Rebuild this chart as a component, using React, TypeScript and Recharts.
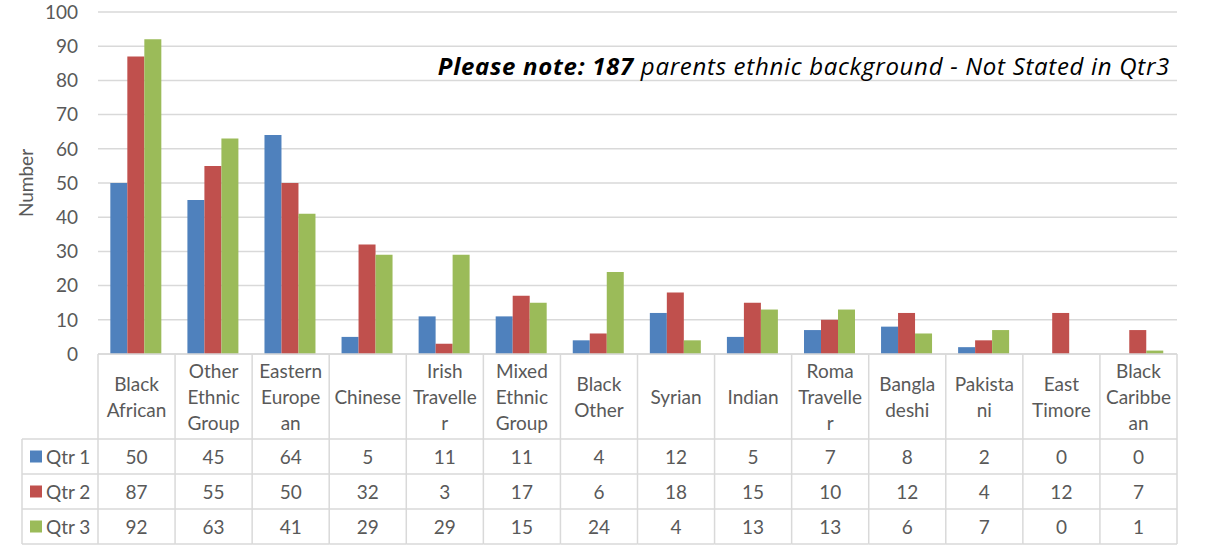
import React from "react";
import { Bar, BarChart, CartesianGrid, XAxis, YAxis } from "recharts";

const categories = [
  "Black African",
  "Other Ethnic Group",
  "Eastern European",
  "Chinese",
  "Irish Traveller",
  "Mixed Ethnic Group",
  "Black Other",
  "Syrian",
  "Indian",
  "Roma Traveller",
  "Bangladeshi",
  "Pakistani",
  "East Timore",
  "Black Caribbean"
];

// how Excel wrapped each label in the data table header
const categoryLines = [
  ["Black", "African"],
  ["Other", "Ethnic", "Group"],
  ["Eastern", "Europe", "an"],
  ["Chinese"],
  ["Irish", "Travelle", "r"],
  ["Mixed", "Ethnic", "Group"],
  ["Black", "Other"],
  ["Syrian"],
  ["Indian"],
  ["Roma", "Travelle", "r"],
  ["Bangla", "deshi"],
  ["Pakista", "ni"],
  ["East", "Timore"],
  ["Black", "Caribbe", "an"]
];

const qtr1 = [50, 45, 64, 5, 11, 11, 4, 12, 5, 7, 8, 2, 0, 0];
const qtr2 = [87, 55, 50, 32, 3, 17, 6, 18, 15, 10, 12, 4, 12, 7];
const qtr3 = [92, 63, 41, 29, 29, 15, 24, 4, 13, 13, 6, 7, 0, 1];

const yTicks = [0, 10, 20, 30, 40, 50, 60, 70, 80, 90, 100];

const series = [
  { key: "q1", name: "Qtr 1", color: "#4f81bd", values: qtr1 },
  { key: "q2", name: "Qtr 2", color: "#c0504d", values: qtr2 },
  { key: "q3", name: "Qtr 3", color: "#9bbb59", values: qtr3 }
];

const data = categories.map((name, i) => ({
  name,
  q1: qtr1[i],
  q2: qtr2[i],
  q3: qtr3[i]
}));

const W = 1212;
const H = 548;
const MARGIN = { top: 12, right: 35, bottom: 0, left: 0 };
const Y_AXIS_W = 98;
const X_AXIS_H = 194;
const BAND = (W - MARGIN.left - MARGIN.right - Y_AXIS_W) / categories.length;

const FONT = "Lato, 'Open Sans', sans-serif";
const FS = 19;
const TEXT = "#595959";
const LINE = "#d9d9d9";
const HEADER_H = 85;
const ROW_H = 35;
const LEGEND_W = 76;

const TableTick = (props: any) => {
  const { x, y, payload } = props;
  const i = payload.index;
  const left = x - BAND / 2;
  const right = x + BAND / 2;
  const bottom = y + HEADER_H + ROW_H * series.length;
  const lines = categoryLines[i] || [payload.value];
  const lineH = 26;
  const midY = y + HEADER_H / 2;
  const isLast = i === categories.length - 1;

  return (
    <g fontFamily={FONT} fontSize={FS} fill={TEXT}>
      <line x1={left} y1={y} x2={left} y2={bottom} stroke={LINE} strokeWidth={1.5} />
      {isLast && <line x1={right} y1={y} x2={right} y2={bottom} stroke={LINE} strokeWidth={1.5} />}
      {series.map((_, r) => (
        <line
          key={r}
          x1={left}
          x2={right}
          y1={y + HEADER_H + r * ROW_H}
          y2={y + HEADER_H + r * ROW_H}
          stroke={LINE}
          strokeWidth={1.5}
        />
      ))}
      <line x1={left} x2={right} y1={bottom} y2={bottom} stroke={LINE} strokeWidth={1.5} />
      {lines.map((t, k) => (
        <text
          key={k}
          x={x}
          y={midY + (k - (lines.length - 1) / 2) * lineH}
          textAnchor="middle"
          dominantBaseline="central"
        >
          {t}
        </text>
      ))}
      {series.map((s, r) => (
        <text
          key={s.key}
          x={x}
          y={y + HEADER_H + r * ROW_H + ROW_H / 2}
          textAnchor="middle"
          dominantBaseline="central"
        >
          {s.values[i]}
        </text>
      ))}
      {i === 0 && (
        <g>
          <line x1={left - LEGEND_W} x2={left - LEGEND_W} y1={y + HEADER_H} y2={bottom} stroke={LINE} strokeWidth={1.5} />
          {series.map((s, r) => {
            const top = y + HEADER_H + r * ROW_H;
            return (
              <g key={s.key}>
                <line x1={left - LEGEND_W} x2={left} y1={top} y2={top} stroke={LINE} strokeWidth={1.5} />
                <rect x={left - LEGEND_W + 8} y={top + ROW_H / 2 - 6} width={12} height={12} fill={s.color} />
                <text x={left - LEGEND_W + 24} y={top + ROW_H / 2} dominantBaseline="central">
                  {s.name}
                </text>
              </g>
            );
          })}
          <line x1={left - LEGEND_W} x2={left} y1={bottom} y2={bottom} stroke={LINE} strokeWidth={1.5} />
        </g>
      )}
    </g>
  );
};

const YLabel = (props: any) => {
  const vb = props.viewBox || { x: 0, y: 0, width: 0, height: 0 };
  const cx = vb.x + 25;
  const cy = vb.y + vb.height / 2;
  return (
    <text
      x={cx}
      y={cy}
      transform={`rotate(-90 ${cx} ${cy})`}
      textAnchor="middle"
      dominantBaseline="central"
      fontFamily={FONT}
      fontSize={19}
      fill={TEXT}
    >
      Number
    </text>
  );
};

export default function App() {
  return (
    <div style={{ position: "absolute", left: 0, top: 0, width: W, height: H, background: "#fff" }}>
      <BarChart
        width={W}
        height={H}
        data={data}
        margin={MARGIN}
        barCategoryGap="16%"
        barGap={0}
      >
        <CartesianGrid vertical={false} stroke={LINE} strokeWidth={1.5} />
        <XAxis
          dataKey="name"
          height={X_AXIS_H}
          interval={0}
          tickLine={false}
          tickSize={0}
          tickMargin={0}
          axisLine={{ stroke: LINE, strokeWidth: 1.5 }}
          tick={<TableTick />}
        />
        <YAxis
          width={Y_AXIS_W}
          domain={[0, 100]}
          ticks={yTicks}
          axisLine={false}
          tickLine={false}
          tickSize={0}
          tickMargin={20}
          tick={{ fill: TEXT, fontSize: FS, fontFamily: FONT }}
          label={<YLabel />}
        />
        {series.map((s) => (
          <Bar key={s.key} dataKey={s.key} name={s.name} fill={s.color} isAnimationActive={false} />
        ))}
      </BarChart>
      <div
        style={{
          position: "absolute",
          right: W - 1170,
          top: 50,
          fontFamily: "'Open Sans', Lato, sans-serif",
          fontSize: 24,
          letterSpacing: 0.7,
          fontStyle: "italic",
          color: "#000",
          whiteSpace: "nowrap",
          lineHeight: "32px"
        }}
      >
        <b>Please note: 187</b> parents ethnic background - Not Stated in Qtr3
      </div>
    </div>
  );
}
